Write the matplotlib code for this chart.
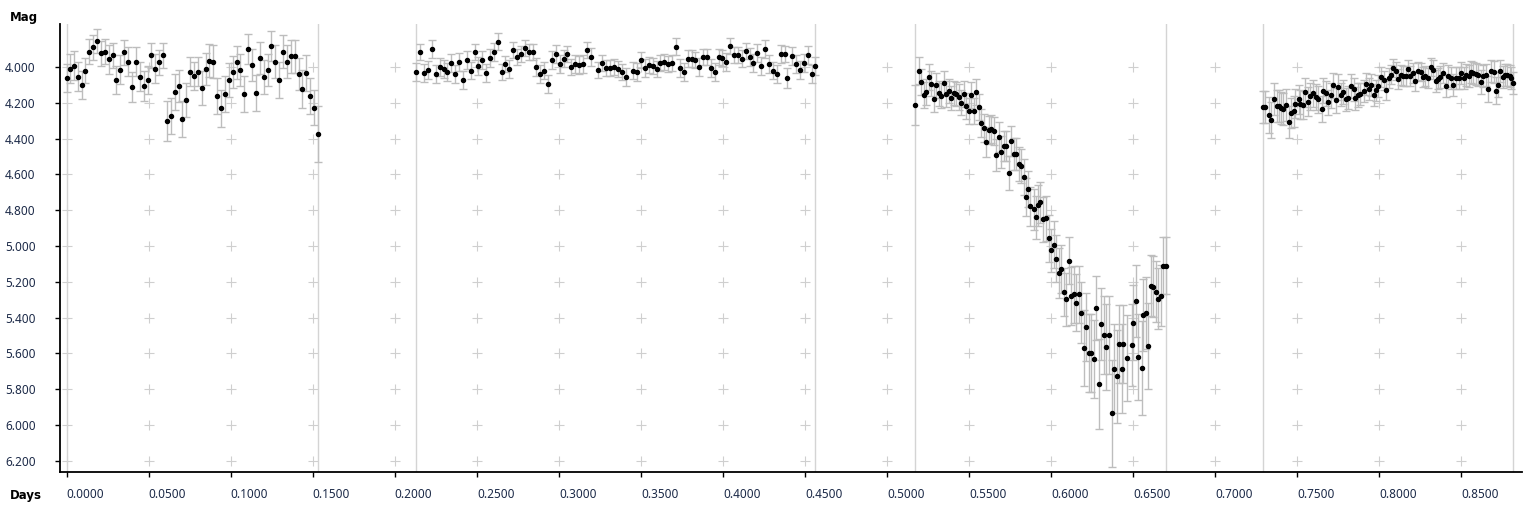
import matplotlib
matplotlib.use("Agg")
import matplotlib.pyplot as plt
import numpy as np

# light curve, four observing runs (days, magnitude, error)
seg1_t = [0.0000, 0.0018, 0.0043, 0.0067, 0.0091, 0.0114, 0.0136, 0.0160, 0.0183, 0.0207,
          0.0232, 0.0256, 0.0280, 0.0301, 0.0323, 0.0347, 0.0372, 0.0398, 0.0420, 0.0445,
          0.0469, 0.0494, 0.0514, 0.0536, 0.0561, 0.0585, 0.0609, 0.0634, 0.0658, 0.0683,
          0.0701, 0.0725, 0.0750, 0.0774, 0.0798, 0.0823, 0.0847, 0.0865, 0.0890, 0.0914,
          0.0938, 0.0965, 0.0987, 0.1012, 0.1036, 0.1056, 0.1081, 0.1103, 0.1127, 0.1152,
          0.1178, 0.1203, 0.1225, 0.1245, 0.1270, 0.1294, 0.1318, 0.1341, 0.1365, 0.1389,
          0.1414, 0.1432, 0.1458, 0.1483, 0.1505, 0.1532]
seg1_m = [4.061, 4.010, 3.992, 4.055, 4.101, 4.021, 3.914, 3.890, 3.855, 3.924,
          3.914, 3.958, 3.935, 4.072, 4.015, 3.918, 3.971, 4.112, 3.971, 4.055,
          4.105, 4.072, 3.935, 4.010, 3.975, 3.935, 4.301, 4.272, 4.141, 4.107,
          4.290, 4.187, 4.027, 4.050, 4.027, 4.118, 4.010, 3.964, 3.970, 4.164,
          4.232, 4.152, 4.072, 4.027, 3.975, 4.015, 4.152, 3.901, 3.987, 4.147,
          3.952, 4.055, 4.015, 3.884, 3.970, 4.072, 3.914, 3.970, 3.941, 3.941,
          4.038, 4.124, 4.032, 4.164, 4.227, 4.375]
seg1_e = [0.08, 0.08, 0.08, 0.08, 0.08, 0.07, 0.07, 0.07, 0.065, 0.07,
          0.07, 0.08, 0.07, 0.08, 0.08, 0.07, 0.08, 0.085, 0.08, 0.08,
          0.085, 0.08, 0.07, 0.08, 0.07, 0.07, 0.11, 0.1, 0.1, 0.09,
          0.1, 0.095, 0.08, 0.08, 0.08, 0.095, 0.09, 0.09, 0.09, 0.1,
          0.105, 0.1, 0.095, 0.09, 0.09, 0.09, 0.1, 0.085, 0.09, 0.1,
          0.09, 0.095, 0.09, 0.085, 0.09, 0.1, 0.09, 0.09, 0.09, 0.09,
          0.09, 0.105, 0.1, 0.1, 0.1, 0.155]

seg2_t = [0.2129, 0.2153, 0.2177, 0.2202, 0.2226, 0.2250, 0.2275, 0.2299, 0.2318, 0.2342,
          0.2366, 0.2391, 0.2415, 0.2439, 0.2464, 0.2488, 0.2506, 0.2531, 0.2555, 0.2580,
          0.2604, 0.2628, 0.2653, 0.2673, 0.2697, 0.2720, 0.2742, 0.2768, 0.2793, 0.2817,
          0.2842, 0.2858, 0.2884, 0.2907, 0.2931, 0.2957, 0.2982, 0.3006, 0.3029, 0.3049,
          0.3073, 0.3096, 0.3122, 0.3146, 0.3171, 0.3195, 0.3238, 0.3260, 0.3284, 0.3309,
          0.3333, 0.3358, 0.3382, 0.3408, 0.3451, 0.3475, 0.3498, 0.3522, 0.3546, 0.3571,
          0.3595, 0.3616, 0.3640, 0.3664, 0.3689, 0.3713, 0.3737, 0.3762, 0.3786, 0.3811,
          0.3831, 0.3853, 0.3878, 0.3902, 0.3926, 0.3951, 0.3975, 0.3993, 0.4018, 0.4042,
          0.4067, 0.4091, 0.4115, 0.4140, 0.4164, 0.4182, 0.4207, 0.4231, 0.4255, 0.4280,
          0.4304, 0.4329, 0.4353, 0.4377, 0.4391, 0.4420, 0.4444, 0.4469, 0.4493, 0.4517,
          0.4542, 0.4560]
seg2_m = [4.030, 3.914, 4.032, 4.015, 3.901, 4.037, 3.998, 4.011, 4.026, 3.976,
          4.041, 3.970, 4.071, 3.963, 4.020, 3.914, 3.993, 3.959, 4.032, 3.952,
          3.914, 3.858, 4.026, 3.985, 4.009, 3.907, 3.942, 3.929, 3.892, 3.918,
          3.914, 3.998, 4.037, 4.020, 4.093, 3.959, 3.927, 3.985, 3.953, 3.927,
          4.002, 3.981, 3.991, 3.981, 3.903, 3.942, 4.015, 3.976, 4.004, 4.004,
          3.998, 4.009, 4.028, 4.054, 4.020, 4.026, 3.959, 4.004, 3.991, 3.996,
          4.011, 3.976, 3.970, 3.981, 3.976, 3.886, 4.004, 4.026, 3.953, 3.953,
          3.959, 3.998, 3.942, 3.942, 4.004, 4.026, 3.942, 3.948, 3.970, 3.881,
          3.935, 3.935, 3.953, 3.909, 3.942, 3.976, 3.920, 3.993, 3.898, 3.981,
          4.020, 4.041, 3.926, 3.929, 4.060, 3.937, 3.985, 4.015, 3.976, 3.931,
          4.037, 3.993]
seg2_e = [0.05, 0.045, 0.05, 0.05, 0.05, 0.05, 0.05, 0.05, 0.05, 0.05,
          0.05, 0.05, 0.05, 0.05, 0.05, 0.045, 0.05, 0.05, 0.05, 0.05,
          0.05, 0.045, 0.045, 0.045, 0.05, 0.045, 0.045, 0.045, 0.045, 0.045,
          0.045, 0.05, 0.05, 0.05, 0.05, 0.05, 0.05, 0.05, 0.05, 0.045,
          0.045, 0.05, 0.05, 0.05, 0.045, 0.05, 0.045, 0.045, 0.045, 0.045,
          0.045, 0.045, 0.045, 0.05, 0.05, 0.05, 0.045, 0.05, 0.045, 0.045,
          0.045, 0.045, 0.045, 0.045, 0.045, 0.045, 0.05, 0.05, 0.045, 0.045,
          0.045, 0.05, 0.045, 0.045, 0.05, 0.05, 0.045, 0.045, 0.05, 0.045,
          0.045, 0.045, 0.05, 0.045, 0.05, 0.05, 0.05, 0.05, 0.05, 0.05,
          0.05, 0.05, 0.05, 0.045, 0.055, 0.05, 0.05, 0.05, 0.05, 0.05,
          0.05, 0.05]

seg3_t = [0.5170, 0.5194, 0.5206, 0.5225, 0.5237, 0.5255, 0.5267, 0.5285, 0.5298, 0.5316,
          0.5328, 0.5346, 0.5358, 0.5377, 0.5389, 0.5407, 0.5419, 0.5437, 0.5449, 0.5468,
          0.5480, 0.5498, 0.5510, 0.5528, 0.5540, 0.5559, 0.5571, 0.5589, 0.5601, 0.5619,
          0.5632, 0.5650, 0.5662, 0.5680, 0.5692, 0.5711, 0.5723, 0.5741, 0.5753, 0.5771,
          0.5783, 0.5802, 0.5814, 0.5832, 0.5844, 0.5862, 0.5874, 0.5893, 0.5905, 0.5923,
          0.5935, 0.5953, 0.5966, 0.5986, 0.5998, 0.6016, 0.6028, 0.6047, 0.6059, 0.6077,
          0.6089, 0.6107, 0.6119, 0.6138, 0.6150, 0.6168, 0.6180, 0.6198, 0.6211, 0.6229,
          0.6241, 0.6259, 0.6271, 0.6289, 0.6302, 0.6320, 0.6332, 0.6350, 0.6368, 0.6381,
          0.6399, 0.6411, 0.6429, 0.6441, 0.6460, 0.6490, 0.6502, 0.6520, 0.6532, 0.6551,
          0.6563, 0.6581, 0.6593, 0.6611, 0.6623, 0.6642, 0.6654, 0.6672, 0.6684, 0.6702]
seg3_m = [4.213, 4.022, 4.084, 4.157, 4.140, 4.056, 4.095, 4.179, 4.101, 4.146,
          4.162, 4.090, 4.151, 4.134, 4.174, 4.146, 4.151, 4.168, 4.201, 4.151,
          4.218, 4.246, 4.157, 4.246, 4.140, 4.224, 4.313, 4.341, 4.420, 4.353,
          4.347, 4.358, 4.493, 4.392, 4.476, 4.442, 4.442, 4.593, 4.414, 4.487,
          4.487, 4.543, 4.554, 4.616, 4.728, 4.683, 4.778, 4.795, 4.840, 4.772,
          4.756, 4.851, 4.845, 4.957, 5.024, 4.993, 5.071, 5.153, 5.127, 5.256,
          5.299, 5.082, 5.279, 5.271, 5.316, 5.271, 5.372, 5.570, 5.452, 5.598,
          5.598, 5.632, 5.346, 5.772, 5.436, 5.497, 5.564, 5.497, 5.935, 5.686,
          5.727, 5.548, 5.686, 5.548, 5.626, 5.553, 5.430, 5.307, 5.621, 5.682,
          5.385, 5.374, 5.559, 5.222, 5.228, 5.256, 5.295, 5.277, 5.110, 5.110]
seg3_e = [0.11, 0.075, 0.07, 0.075, 0.07, 0.07, 0.07, 0.075, 0.07, 0.07,
          0.07, 0.07, 0.07, 0.065, 0.065, 0.065, 0.065, 0.07, 0.07, 0.07,
          0.07, 0.07, 0.075, 0.075, 0.07, 0.075, 0.08, 0.08, 0.085, 0.08,
          0.08, 0.08, 0.09, 0.085, 0.09, 0.085, 0.085, 0.095, 0.085, 0.09,
          0.09, 0.095, 0.095, 0.1, 0.105, 0.1, 0.11, 0.115, 0.12, 0.115,
          0.115, 0.125, 0.125, 0.13, 0.12, 0.13, 0.13, 0.14, 0.135, 0.135,
          0.15, 0.13, 0.16, 0.16, 0.16, 0.16, 0.17, 0.21, 0.19, 0.22,
          0.22, 0.22, 0.18, 0.25, 0.2, 0.22, 0.24, 0.22, 0.30, 0.25,
          0.26, 0.22, 0.25, 0.22, 0.24, 0.23, 0.21, 0.2, 0.24, 0.26,
          0.2, 0.2, 0.24, 0.17, 0.17, 0.17, 0.17, 0.17, 0.16, 0.16]

seg4_t = [0.7291, 0.7303, 0.7326, 0.7342, 0.7356, 0.7374, 0.7388, 0.7403, 0.7415, 0.7429,
          0.7447, 0.7459, 0.7478, 0.7488, 0.7508, 0.7518, 0.7537, 0.7549, 0.7567, 0.7577,
          0.7597, 0.7614, 0.7628, 0.7648, 0.7660, 0.7676, 0.7689, 0.7707, 0.7719, 0.7737,
          0.7747, 0.7766, 0.7778, 0.7796, 0.7808, 0.7825, 0.7843, 0.7853, 0.7871, 0.7885,
          0.7904, 0.7920, 0.7936, 0.7948, 0.7965, 0.7979, 0.7995, 0.8013, 0.8027, 0.8042,
          0.8058, 0.8072, 0.8086, 0.8104, 0.8117, 0.8133, 0.8147, 0.8163, 0.8175, 0.8190,
          0.8204, 0.8218, 0.8236, 0.8253, 0.8267, 0.8279, 0.8295, 0.8315, 0.8328, 0.8346,
          0.8358, 0.8372, 0.8390, 0.8409, 0.8419, 0.8435, 0.8449, 0.8468, 0.8484, 0.8500,
          0.8514, 0.8528, 0.8545, 0.8559, 0.8573, 0.8589, 0.8603, 0.8620, 0.8632, 0.8650,
          0.8662, 0.8683, 0.8697, 0.8713, 0.8725, 0.8735, 0.8754, 0.8766, 0.8780, 0.8794,
          0.8806, 0.8816]
seg4_m = [4.224, 4.224, 4.269, 4.297, 4.181, 4.218, 4.218, 4.229, 4.237, 4.213,
          4.308, 4.257, 4.248, 4.205, 4.181, 4.209, 4.213, 4.142, 4.194, 4.164,
          4.146, 4.168, 4.181, 4.235, 4.134, 4.146, 4.196, 4.159, 4.101, 4.187,
          4.112, 4.155, 4.140, 4.181, 4.172, 4.106, 4.125, 4.175, 4.157, 4.151,
          4.134, 4.095, 4.123, 4.101, 4.157, 4.131, 4.106, 4.056, 4.075, 4.131,
          4.062, 4.043, 4.004, 4.024, 4.067, 4.045, 4.050, 4.050, 4.013, 4.050,
          4.034, 4.078, 4.022, 4.028, 4.058, 4.050, 4.062, 4.000, 4.015, 4.078,
          4.065, 4.056, 4.034, 4.106, 4.050, 4.062, 4.101, 4.062, 4.062, 4.034,
          4.062, 4.045, 4.050, 4.028, 4.034, 4.039, 4.045, 4.084, 4.050, 4.045,
          4.123, 4.022, 4.028, 4.132, 4.099, 4.022, 4.056, 4.045, 4.045, 4.050,
          4.062, 4.090]
seg4_e = [0.09, 0.09, 0.1, 0.1, 0.09, 0.09, 0.09, 0.09, 0.09, 0.09,
          0.09, 0.085, 0.085, 0.08, 0.08, 0.08, 0.08, 0.08, 0.08, 0.075,
          0.075, 0.075, 0.075, 0.075, 0.07, 0.07, 0.07, 0.07, 0.07, 0.07,
          0.07, 0.065, 0.065, 0.065, 0.065, 0.065, 0.065, 0.065, 0.065, 0.06,
          0.06, 0.06, 0.06, 0.06, 0.06, 0.06, 0.06, 0.055, 0.055, 0.055,
          0.055, 0.055, 0.05, 0.05, 0.055, 0.055, 0.055, 0.055, 0.05, 0.055,
          0.055, 0.055, 0.05, 0.05, 0.055, 0.055, 0.055, 0.05, 0.055, 0.06,
          0.06, 0.06, 0.055, 0.06, 0.06, 0.06, 0.06, 0.06, 0.06, 0.06,
          0.06, 0.06, 0.06, 0.06, 0.06, 0.06, 0.06, 0.065, 0.06, 0.06,
          0.075, 0.06, 0.06, 0.075, 0.07, 0.06, 0.06, 0.06, 0.06, 0.06,
          0.06, 0.06]

x_ticks = [0.00, 0.05, 0.10, 0.15, 0.20, 0.25, 0.30, 0.35, 0.40, 0.45,
           0.50, 0.55, 0.60, 0.65, 0.70, 0.75, 0.80, 0.85]
y_ticks = [4.0, 4.2, 4.4, 4.6, 4.8, 5.0, 5.2, 5.4, 5.6, 5.8, 6.0, 6.2]

W, H = 1536, 512
plt.rcParams['font.family'] = ['Noto Sans', 'DejaVu Sans']

fig = plt.figure(figsize=(W / 100, H / 100), dpi=100)
ax = fig.add_axes([60 / W, 40 / H, (1522 - 60) / W, (472 - 24) / H])

ax.set_xlim(-0.0041, 0.887)
ax.set_ylim(6.263, 3.760)

# "+" grid at every tick crossing
gx, gy = np.meshgrid(x_ticks, y_ticks)
ax.plot(gx.ravel(), gy.ravel(), '+', color='#cfcfcf', ms=7, mew=0.8, zorder=1)

segments = [(seg1_t, seg1_m, seg1_e), (seg2_t, seg2_m, seg2_e),
            (seg3_t, seg3_m, seg3_e), (seg4_t, seg4_m, seg4_e)]
for t, m, e in segments:
    # run boundaries
    ax.axvline(min(t), color='#d4d4d4', lw=1, zorder=1)
    ax.axvline(max(t), color='#d4d4d4', lw=1, zorder=1)
    ax.errorbar(t, m, yerr=e, fmt='o', ms=2.9, color='black', mec='black',
                ecolor='#bdbdbd', elinewidth=1, capsize=2.6, capthick=1, zorder=3)

ax.spines['top'].set_visible(False)
ax.spines['right'].set_visible(False)
ax.spines['left'].set_linewidth(1.3)
ax.spines['bottom'].set_linewidth(1.3)

ax.set_xticks(x_ticks)
ax.set_xticklabels([f"{v:.4f}" for v in x_ticks])
ax.set_yticks(y_ticks)
ax.set_yticklabels([f"{v:.3f}" for v in y_ticks])
ax.tick_params(axis='x', length=3.5, width=1, pad=8, labelsize=8.5, labelcolor='#1c2a48')
ax.tick_params(axis='y', length=3.5, width=1, pad=14, labelsize=8.5, labelcolor='#1c2a48')
for lab in ax.get_xticklabels():
    lab.set_horizontalalignment('left')

fig.text(10 / W, 1 - 17 / H, "Mag", fontsize=8.5, fontweight='bold', va='center', ha='left',
         family='DejaVu Sans')
fig.text(10 / W, 1 - 495 / H, "Days", fontsize=8.5, fontweight='bold', va='center', ha='left',
         family='DejaVu Sans')

fig.savefig("out.png", dpi=100)
